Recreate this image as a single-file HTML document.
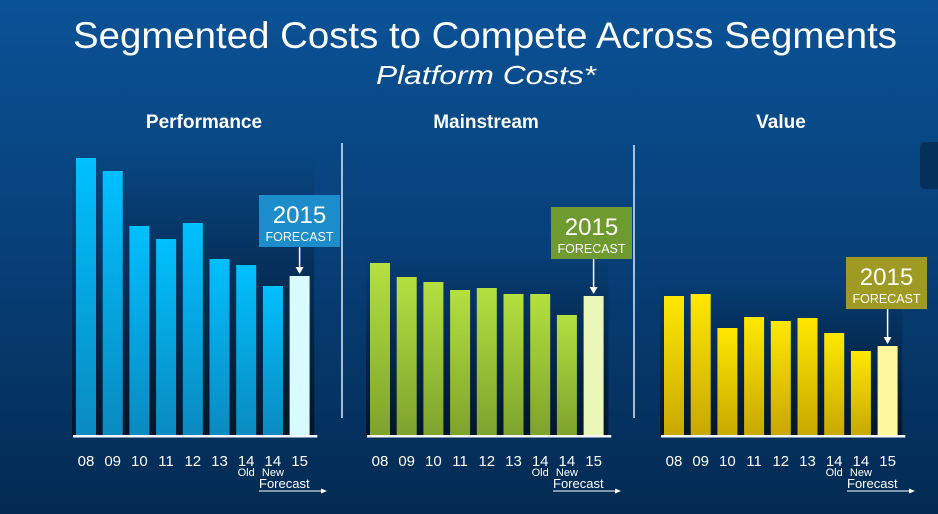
<!DOCTYPE html>
<html><head><meta charset="utf-8"><style>
html,body{margin:0;padding:0;width:938px;height:514px;overflow:hidden;background:#04325f}
svg{display:block}
text{font-family:"Liberation Sans",sans-serif;fill:#fff}
</style></head><body>
<svg id="c" width="938" height="514" viewBox="0 0 938 514" xmlns="http://www.w3.org/2000/svg">
<defs>
<linearGradient id="bg" x1="0" y1="0" x2="0" y2="1"><stop offset="0" stop-color="#0a5296"/><stop offset="0.5" stop-color="#073f77"/><stop offset="1" stop-color="#032a52"/></linearGradient>
<linearGradient id="shade" x1="0" y1="0" x2="0" y2="1"><stop offset="0" stop-color="#000" stop-opacity="0"/><stop offset="1" stop-color="#000" stop-opacity="0.55"/></linearGradient>
<linearGradient id="gb" x1="0" y1="0" x2="0" y2="1"><stop offset="0" stop-color="#00c0ff"/><stop offset="1" stop-color="#0a8ac0"/></linearGradient>
<linearGradient id="gg" x1="0" y1="0" x2="0" y2="1"><stop offset="0" stop-color="#b4e040"/><stop offset="1" stop-color="#7ea22c"/></linearGradient>
<linearGradient id="gy" x1="0" y1="0" x2="0" y2="1"><stop offset="0" stop-color="#ffe800"/><stop offset="1" stop-color="#c8a800"/></linearGradient>
</defs>
<rect width="938" height="514" fill="url(#bg)"/>
<rect x="920" y="142" width="24" height="47" rx="5" fill="#05305a"/>
<text x="485" y="48" font-size="37" text-anchor="middle" textLength="824" lengthAdjust="spacingAndGlyphs">Segmented Costs to Compete Across Segments</text>
<text x="486" y="84" font-size="26" font-style="italic" text-anchor="middle" textLength="220" lengthAdjust="spacingAndGlyphs">Platform Costs*</text>
<line x1="342" y1="143" x2="342" y2="418" stroke="#dde8f5" stroke-width="1.5"/>
<line x1="634" y1="145" x2="634" y2="418" stroke="#dde8f5" stroke-width="1.5"/>
<g id="panels"></g>
</svg>
<script>
const categories=["08","09","10","11","12","13","14","14","15"];
const subLabels=["","","","","","","Old","New",""];
const performanceValues=[278,265,210,197,213,177,171,150,160];
const mainstreamValues=[173,159,154,146,148,142,142,121,140];
const valueValues=[140,142,108,119,115,118,103,85,90];
const panelTitles=["Performance","Mainstream","Value"];
const NS="http://www.w3.org/2000/svg";
const g=document.getElementById('panels');
function el(t,a,p){const e=document.createElementNS(NS,t);for(const k in a)e.setAttribute(k,a[k]);(p||g).appendChild(e);return e;}
const baseY=436, pitch=26.7, bw=20;
function yScale(v){return baseY-v;}
const panels=[
 {vals:performanceValues,x0:76,grad:"url(#gb)",last:"#d8fbff",box:"#1c8dca",bx:259,by:195,cx:204},
 {vals:mainstreamValues,x0:370,grad:"url(#gg)",last:"#eaf7b8",box:"#6e9a30",bx:551,by:207,cx:486},
 {vals:valueValues,x0:664,grad:"url(#gy)",last:"#fff6a0",box:"#9f9a24",bx:846,by:257,cx:781}
];
panels.forEach((p,pi)=>{
 const t=el('text',{x:p.cx,y:128,'font-size':19,'font-weight':'bold','text-anchor':'middle'});
 
 
 t.textContent=panelTitles[pi];
 const maxV=Math.max(...p.vals);
 const sh=el('rect',{x:p.x0-4,y:yScale(maxV)-10,width:pitch*9+2,height:maxV+10,fill:'url(#shade)'});
 
 
 let lastTop=0,lastX=0;
 p.vals.forEach((v,i)=>{
  const x=p.x0+i*pitch, y=yScale(v);
  const r=el('rect',{x:x,y:y,width:bw,height:baseY-y,fill:i===8?p.last:p.grad});
  
  
  const l=el('text',{x:x+bw/2,y:466,'font-size':15,'text-anchor':'middle'});
  
  
  l.textContent=categories[i];
  if(subLabels[i]){
   const s=el('text',{x:x+bw/2,y:476,'font-size':11,'text-anchor':'middle'});
   
   
   s.textContent=subLabels[i];
  }
  if(i===8){lastTop=y;lastX=x+bw/2;}
 });
 const ax=el('rect',{x:p.x0-3,y:435,width:pitch*9+4,height:2.5,fill:'#f4f8fc'});
 
 
 const fx=p.x0+183;
 const f=el('text',{x:fx,y:488,'font-size':13});
 
 
 f.textContent="Forecast";
 const fl=el('line',{x1:fx,y1:491,x2:fx+64,y2:491,stroke:'#fff','stroke-width':1});
 
 
 const fa=el('polygon',{points:`${fx+68},491 ${fx+62},488.5 ${fx+62},493.5`,fill:'#fff'});
 
 
 const b=el('rect',{x:p.bx,y:p.by,width:81,height:52,fill:p.box});
 
 
 const t1=el('text',{x:p.bx+40.5,y:p.by+28,'font-size':24,'text-anchor':'middle'});
 
 
 t1.textContent="2015";
 const t2=el('text',{x:p.bx+40.5,y:p.by+46,'font-size':12.5,'text-anchor':'middle',fill:'#e8f0f0'});
 
 
 t2.textContent="FORECAST";
 const al=el('line',{x1:lastX,y1:p.by+52,x2:lastX,y2:lastTop-4,stroke:'#fff','stroke-width':1.5});
 
 
 const ah=el('polygon',{points:`${lastX},${lastTop-2} ${lastX-4},${lastTop-9} ${lastX+4},${lastTop-9}`,fill:'#fff'});
 
 
});
</script>
</body></html>
